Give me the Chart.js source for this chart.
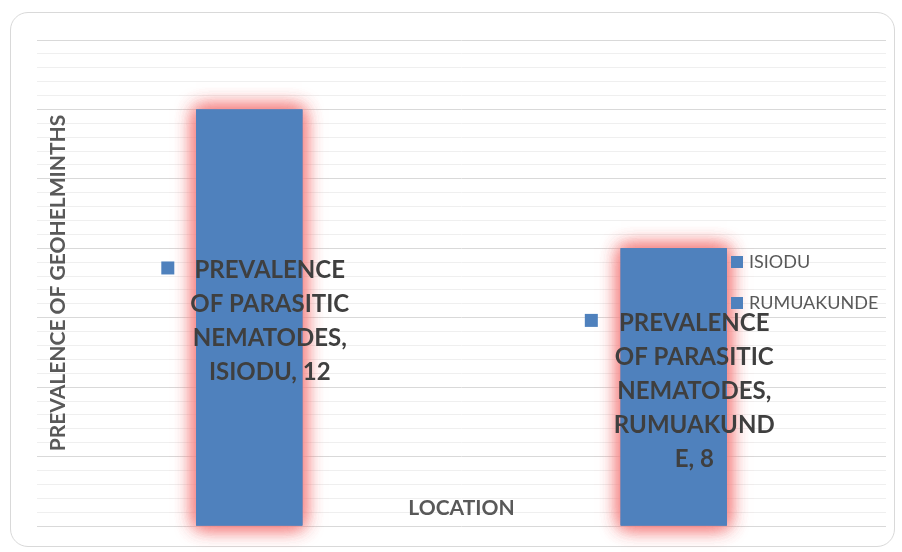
<!DOCTYPE html>
<html>
<head>
<meta charset="utf-8">
<script src="https://cdn.jsdelivr.net/npm/chart.js@4.4.1/dist/chart.umd.min.js"></script>
<style>
  html, body { margin: 0; padding: 0; background: #fff; }
  #wrap { position: relative; width: 902px; height: 552px; }
  #card { position: absolute; left: 10px; top: 12px; width: 885px; height: 535px; border: 1px solid #d9d9d9; border-radius: 18px; box-sizing: border-box; }
  canvas { position: absolute; left: 0; top: 0; }
</style>
</head>
<body>
<div id="wrap">
  <div id="card"></div>
  <canvas id="chart" width="902" height="552"></canvas>
</div>
<script>
// chart data
const categories = ['ISIODU', 'RUMUAKUNDE'];
const prevalence = [12, 8];
const seriesName = 'PREVALENCE OF PARASITIC NEMATODES';
const yTitle = 'PREVALENCE OF GEOHELMINTHS';
const xTitle = 'LOCATION';
const yMax = 14;
const majorStep = 2;
const minorStep = 0.4;

const BAR = '#4F81BD';
const FONT = 'Lato, "Open Sans", sans-serif';

function wrapText(ctx, text, maxW) {
    const words = text.split(' ');
    const lines = [];
    let cur = '';
    words.forEach(w => {
        const test = cur ? cur + ' ' + w : w;
        if (ctx.measureText(test).width <= maxW) { cur = test; return; }
        if (cur) lines.push(cur);
        cur = '';
        // break long words by character
        let piece = '';
        for (const ch of w) {
            if (ctx.measureText(piece + ch).width > maxW && piece) { lines.push(piece); piece = ch; }
            else piece += ch;
        }
        cur = piece;
    });
    if (cur) lines.push(cur);
    return lines;
}

const decorPlugin = {
    id: 'decor',
    beforeDatasetsDraw(chart) {
        // pink glow round the bars
        const ctx = chart.ctx;
        ctx.save();
        ctx.shadowColor = 'rgba(244,130,130,0.9)';
        ctx.shadowBlur = 18;
        chart.getDatasetMeta(0).data.forEach(el => { el.draw(ctx); el.draw(ctx); el.draw(ctx); });
        ctx.restore();
    },
    afterDatasetsDraw(chart) {
        const ctx = chart.ctx;
        // data labels with legend key
        const meta = chart.getDatasetMeta(0);
        ctx.save();
        ctx.font = 'bold 24px ' + FONT;
        ctx.textAlign = 'center';
        ctx.textBaseline = 'middle';
        const lh = 34, sq = 13, gap = 16;
        meta.data.forEach((el, i) => {
            const txt = seriesName + ', ' + categories[i] + ', ' + prevalence[i];
            const lines = wrapText(ctx, txt, 168);
            const tw = Math.max(...lines.map(l => ctx.measureText(l).width));
            const midY = (el.y + el.base) / 2 + 4;
            const top = midY - lines.length * lh / 2;
            const left = el.x + 6 - (sq + gap + tw) / 2;
            ctx.fillStyle = BAR;
            ctx.fillRect(left, top + lh / 2 - 9, sq, sq);
            ctx.fillStyle = '#3f3f3f';
            const cx = left + sq + gap + tw / 2;
            lines.forEach((l, k) => ctx.fillText(l, cx, top + lh / 2 + k * lh));
        });
        ctx.restore();
    },
    afterDraw(chart) {
        const ctx = chart.ctx, a = chart.chartArea;
        ctx.save();
        // legend (one key per category)
        ctx.font = '18px ' + FONT;
        ctx.textBaseline = 'middle';
        ctx.textAlign = 'left';
        categories.forEach((c, i) => {
            const y = 262 + i * 41;
            ctx.fillStyle = BAR;
            ctx.fillRect(731, y - 6, 12, 12);
            ctx.fillStyle = '#595959';
            ctx.fillText(c, 749, y);
        });
        // axis titles
        ctx.fillStyle = '#595959';
        ctx.font = 'bold 21px ' + FONT;
        ctx.textAlign = 'center';
        ctx.fillText(xTitle, (a.left + a.right) / 2, 508);
        ctx.translate(58, (a.top + a.bottom) / 2);
        ctx.rotate(-Math.PI / 2);
        ctx.fillText(yTitle, 0, 0);
        ctx.restore();
    }
};

new Chart(document.getElementById('chart'), {
    type: 'bar',
    data: {
        labels: categories,
        datasets: [{
            label: seriesName,
            data: prevalence,
            backgroundColor: BAR,
            borderWidth: 0,
            barPercentage: 0.25,
            categoryPercentage: 1,
            clip: false
        }]
    },
    options: {
        responsive: false,
        animation: false,
        layout: { padding: { left: 37, right: 16, top: 40, bottom: 18 } },
        plugins: { legend: { display: false }, tooltip: { enabled: false } },
        scales: {
            x: { grid: { display: false }, ticks: { display: false }, border: { display: false } },
            y: {
                min: 0, max: yMax,
                ticks: { display: false, stepSize: minorStep },
                border: { display: false },
                grid: {
                    drawTicks: false,
                    lineWidth: 1,
                    color: c => {
                        const r = c.tick.value / majorStep;
                        return Math.abs(r - Math.round(r)) < 1e-6 ? '#d9d9d9' : '#efefef';
                    }
                }
            }
        }
    },
    plugins: [decorPlugin]
});
</script>
</body>
</html>
